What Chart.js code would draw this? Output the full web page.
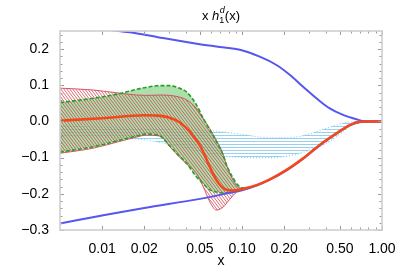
<!DOCTYPE html>
<html><head><meta charset="utf-8">
<script src="https://cdn.jsdelivr.net/npm/chart.js@4"></script>
<style>html,body{margin:0;padding:0;background:#fff;}</style>
</head><body>
<canvas id="c" width="407" height="271"></canvas>
<script>
// ---- tick labels ----
const xTicks = [0.01, 0.02, 0.05, 0.1, 0.2, 0.5, 1];
const xMinorTicks = [0.03, 0.04, 0.06, 0.07, 0.08, 0.09, 0.3, 0.4, 0.6, 0.7, 0.8, 0.9];
const yTicks = [-0.3, -0.2, -0.1, 0, 0.1, 0.2];
const yMinorTicks = [-0.28, -0.26, -0.24, -0.22, -0.18, -0.16, -0.14, -0.12, -0.08, -0.06, -0.04, -0.02,
                     0.02, 0.04, 0.06, 0.08, 0.12, 0.14, 0.16, 0.18, 0.22, 0.24];

// ---- central curve (red) ----
const centralX = [0.005, 0.01, 0.02, 0.025, 0.03, 0.036, 0.042, 0.045, 0.05, 0.054, 0.059, 0.0656, 0.0713, 0.0774, 0.0862, 0.1, 0.127, 0.158, 0.208, 0.273, 0.359, 0.472, 0.588, 0.69, 0.8, 1.0];
const centralY = [0.002, 0.009, 0.017, 0.016, 0.011, -0.003, -0.027, -0.042, -0.066, -0.093, -0.127, -0.162, -0.180, -0.189, -0.191, -0.187, -0.176, -0.160, -0.134, -0.102, -0.065, -0.033, -0.010, -0.001, 0, 0];

// ---- bounds (blue) ----
const blueUpX = [0.01, 0.0158, 0.025, 0.0475, 0.0693, 0.0963, 0.1338, 0.176, 0.219, 0.273, 0.34, 0.423, 0.527, 0.656, 0.75, 1.0];
const blueUpY = [0.255, 0.2465, 0.233, 0.215, 0.206, 0.198, 0.179, 0.156, 0.129, 0.096, 0.064, 0.036, 0.018, 0.006, 0.0005, 0];
const blueLowX = [0.005, 0.01, 0.02, 0.05, 0.08, 0.1, 0.127, 0.158, 0.208, 0.273, 0.359, 0.472, 0.588, 0.69, 0.8, 1.0];
const blueLowY = [-0.282, -0.26, -0.239, -0.214, -0.198, -0.19, -0.177, -0.161, -0.135, -0.103, -0.066, -0.034, -0.011, -0.002, 0, 0];

// ---- error bands (green filled, red hatched) ----
const bandX = [0.005, 0.0086, 0.0134, 0.0177, 0.0205, 0.0258, 0.0305, 0.035, 0.04, 0.0472, 0.0527, 0.0588, 0.0656, 0.0732, 0.0774, 0.0862, 0.093, 0.101, 0.113];
const greenUpper = [0.052, 0.064, 0.077, 0.089, 0.094, 0.099, 0.099, 0.093, 0.082, 0.046, 0.009, -0.023, -0.056, -0.093, -0.12, -0.156, -0.175, -0.184, -0.182];
const greenLower = [-0.085, -0.07, -0.052, -0.04, -0.035, -0.04, -0.068, -0.093, -0.115, -0.153, -0.172, -0.189, -0.195, -0.198, -0.197, -0.194, -0.19, -0.187, -0.183];
const redUpper = [0.092, 0.087, 0.078, 0.073, 0.072, 0.073, 0.072, 0.068, 0.06, 0.036, 0.009, -0.02, -0.052, -0.09, -0.12, -0.162, -0.18, -0.186, -0.182];
const redLower = [-0.088, -0.074, -0.055, -0.043, -0.038, -0.04, -0.07, -0.095, -0.117, -0.143, -0.18, -0.222, -0.245, -0.237, -0.226, -0.205, -0.193, -0.188, -0.183];

// ---- light-blue band ----
const cyanX = [0.005, 0.0195, 0.036, 0.0588, 0.0963, 0.158, 0.231, 0.3, 0.401, 0.528, 0.656, 0.81, 1.0];
const cyanUpper = [-0.012, -0.02, -0.022, -0.025, -0.035, -0.045, -0.044, -0.035, -0.019, -0.005, 0, 0, 0];
const cyanLower = [-0.04, -0.05, -0.07, -0.09, -0.099, -0.1, -0.093, -0.08, -0.06, -0.028, -0.002, 0, 0];

const pts = (xs, ys) => xs.map((x, i) => ({x: x, y: ys[i]}));

const canvas = document.getElementById('c');
const mainCtx = canvas.getContext('2d');

function hatchPattern(w, h, color, lw) {
  const t = document.createElement('canvas');
  t.width = w; t.height = h;
  const g = t.getContext('2d');
  g.strokeStyle = color; g.lineWidth = lw;
  for (const dx of [-w, 0, w]) for (const dy of [-h, 0, h]) {
    g.beginPath(); g.moveTo(dx, dy); g.lineTo(dx + w, dy + h); g.stroke();
  }
  return mainCtx.createPattern(t, 'repeat');
}
function hLinePattern(w, h, color, lw) {
  const t = document.createElement('canvas');
  t.width = w; t.height = h;
  const g = t.getContext('2d');
  g.strokeStyle = color; g.lineWidth = lw;
  g.beginPath(); g.moveTo(0, 0.5); g.lineTo(w, 0.5); g.stroke();
  return mainCtx.createPattern(t, 'repeat');
}
const redHatch = hatchPattern(3, 4, 'rgba(205,60,75,0.85)', 0.9);
const cyanHatch = hLinePattern(4, 3, 'rgba(135,200,235,0.85)', 1);

const FONT = '"Liberation Sans", Arial, sans-serif';
const base = {pointRadius: 0, pointHoverRadius: 0, cubicInterpolationMode: 'monotone', clip: 0};

const datasets = [
  // 0,1 cyan band
  Object.assign({}, base, {label: 'cyanLower', data: pts(cyanX, cyanLower), borderColor: '#8ecff0', borderWidth: 1.2, borderDash: [1, 2], fill: false, order: 20}),
  Object.assign({}, base, {label: 'cyanUpper', data: pts(cyanX, cyanUpper), borderColor: '#8ecff0', borderWidth: 1.2, borderDash: [1, 2], fill: {target: 0}, backgroundColor: cyanHatch, order: 19}),
  // 2,3 green band fill
  Object.assign({}, base, {label: 'greenLowerFill', data: pts(bandX, greenLower), borderWidth: 0, borderColor: 'rgba(0,0,0,0)', fill: false, order: 18}),
  Object.assign({}, base, {label: 'greenUpperFill', data: pts(bandX, greenUpper), borderWidth: 0, borderColor: 'rgba(0,0,0,0)', fill: {target: 2}, backgroundColor: 'rgba(140,210,140,0.72)', order: 17}),
  // 4,5 red hatched band
  Object.assign({}, base, {label: 'redLower', data: pts(bandX, redLower), borderColor: 'rgba(210,70,90,0.9)', borderWidth: 1, fill: false, order: 16}),
  Object.assign({}, base, {label: 'redUpper', data: pts(bandX, redUpper), borderColor: 'rgba(210,70,90,0.9)', borderWidth: 1, fill: {target: 4}, backgroundColor: redHatch, order: 15}),
  // 6,7 green dashed borders
  Object.assign({}, base, {label: 'greenLower', data: pts(bandX, greenLower), borderColor: '#2a9d2a', borderWidth: 1.6, borderDash: [4, 2], fill: false, order: 14}),
  Object.assign({}, base, {label: 'greenUpper', data: pts(bandX, greenUpper), borderColor: '#2a9d2a', borderWidth: 1.6, borderDash: [4, 2], fill: false, order: 13}),
  // 8,9 blue bounds
  Object.assign({}, base, {label: 'boundUpper', data: pts(blueUpX, blueUpY), borderColor: '#5656f0', borderWidth: 2, fill: false, order: 12}),
  Object.assign({}, base, {label: 'boundLower', data: pts(blueLowX, blueLowY), borderColor: '#5656f0', borderWidth: 2, fill: false, order: 11}),
  // 10 central
  Object.assign({}, base, {label: 'central', data: pts(centralX, centralY), borderColor: '#f2481c', borderWidth: 2.6, fill: false, order: 1})
];

const fmtY = v => {
  const r = Math.round(v * 10) / 10;
  if (Math.abs(r) < 1e-9) return '0.0';
  return r < 0 ? '\u2212' + Math.abs(r).toFixed(1) : r.toFixed(1);
};

const framePlugin = {
  id: 'frame',
  afterDatasetsDraw(chart) {
    const {ctx, chartArea: a, scales: {x, y}} = chart;
    ctx.save();
    ctx.strokeStyle = '#9a9a9a';
    ctx.lineWidth = 1;
    const tick = (vals, len) => {
      ctx.beginPath();
      for (const v of vals) {
        const p = Math.round(x.getPixelForValue(v)) + 0.5;
        ctx.moveTo(p, a.bottom); ctx.lineTo(p, a.bottom - len);
        ctx.moveTo(p, a.top); ctx.lineTo(p, a.top + len);
      }
      ctx.stroke();
    };
    const ytick = (vals, len) => {
      ctx.beginPath();
      for (const v of vals) {
        const p = Math.round(y.getPixelForValue(v)) + 0.5;
        ctx.moveTo(a.left, p); ctx.lineTo(a.left + len, p);
        ctx.moveTo(a.right, p); ctx.lineTo(a.right - len, p);
      }
      ctx.stroke();
    };
    tick(xTicks, 4); tick(xMinorTicks, 2.5);
    ytick(yTicks, 4); ytick(yMinorTicks, 2.5);
    ctx.strokeStyle = '#cfcfcf';
    ctx.lineWidth = 1.6;
    ctx.strokeRect(a.left, a.top, a.right - a.left, a.bottom - a.top);
    ctx.restore();
  },
  afterDraw(chart) {
    const {ctx, chartArea: a} = chart;
    ctx.save();
    ctx.fillStyle = '#000';
    ctx.textBaseline = 'alphabetic';
    const big = '13px ' + FONT, bigI = 'italic 13px ' + FONT, small = '9px ' + FONT, smallI = 'italic 9px ' + FONT;
    ctx.font = big; const w1 = ctx.measureText('x ').width;
    ctx.font = bigI; const w2 = ctx.measureText('h').width;
    ctx.font = small; const w3a = ctx.measureText('1').width;
    ctx.font = smallI; const w3b = ctx.measureText('d').width;
    const w3 = Math.max(w3a, w3b) + 0.5;
    ctx.font = big; const w4 = ctx.measureText('(x)').width;
    let xx = (a.left + a.right) / 2 - (w1 + w2 + w3 + w4) / 2;
    const by = 20;
    ctx.font = big; ctx.fillText('x ', xx, by); xx += w1;
    ctx.font = bigI; ctx.fillText('h', xx, by); xx += w2;
    ctx.font = small; ctx.fillText('1', xx, by + 3);
    ctx.font = smallI; ctx.fillText('d', xx + 0.5, by - 7); xx += w3;
    ctx.font = big; ctx.fillText('(x)', xx, by);
    ctx.restore();
  }
};

new Chart(canvas, {
  type: 'line',
  data: {datasets: datasets},
  plugins: [framePlugin],
  options: {
    responsive: false,
    devicePixelRatio: 1,
    animation: false,
    events: [],
    layout: {padding: {top: 31, right: 25, left: 0, bottom: 0}},
    plugins: {legend: {display: false}, tooltip: {enabled: false}, title: {display: false}},
    scales: {
      x: {
        type: 'logarithmic', min: 0.005, max: 1,
        grid: {display: false}, border: {display: false},
        afterBuildTicks: s => { s.ticks = xTicks.map(v => ({value: v})); },
        afterFit: s => { s.height = 41; },
        ticks: {autoSkip: false, maxRotation: 0, minRotation: 0, padding: 3, color: '#000',
                font: {family: FONT, size: 14}, callback: v => Number(v).toFixed(2)},
        title: {display: true, text: 'x', color: '#000', font: {family: FONT, size: 14}, padding: {top: 0, bottom: 1}}
      },
      y: {
        type: 'linear', min: -0.3, max: 0.25,
        grid: {display: false}, border: {display: false},
        afterBuildTicks: s => { s.ticks = yTicks.map(v => ({value: v})); },
        afterFit: s => { s.width = 60; },
        ticks: {autoSkip: false, padding: 3, color: '#000', font: {family: FONT, size: 14}, callback: v => fmtY(v)}
      }
    }
  }
});
</script>
</body></html>
